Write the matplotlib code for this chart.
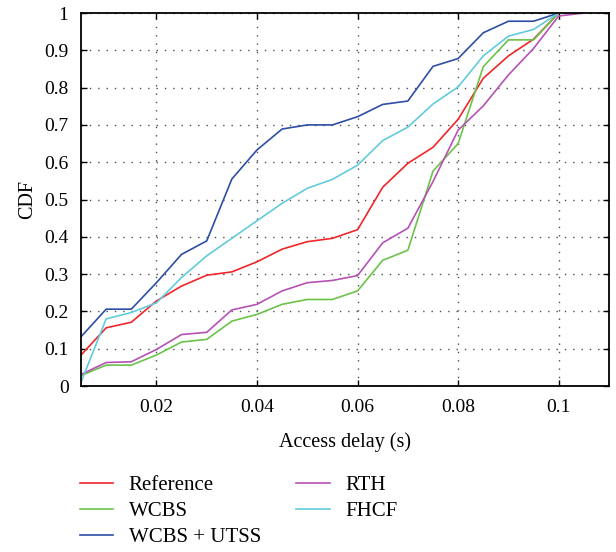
import numpy as np
import matplotlib.pyplot as plt

plt.rcParams['font.family'] = ['Liberation Serif', 'DejaVu Serif']

delay = [0.005, 0.01, 0.015, 0.02, 0.025, 0.03, 0.035, 0.04, 0.045, 0.05,
         0.055, 0.06, 0.065, 0.07, 0.075, 0.08, 0.085, 0.09, 0.095, 0.1]
delay_rth = delay + [0.105]

reference = [0.083, 0.156, 0.171, 0.228, 0.268, 0.297, 0.306, 0.333, 0.367, 0.387,
             0.396, 0.419, 0.533, 0.597, 0.640, 0.715, 0.825, 0.885, 0.930, 1.0]
wcbs = [0.028, 0.056, 0.056, 0.083, 0.118, 0.125, 0.174, 0.192, 0.219, 0.232,
        0.232, 0.255, 0.337, 0.364, 0.576, 0.650, 0.856, 0.928, 0.928, 1.0]
wcbs_utss = [0.132, 0.206, 0.206, 0.277, 0.353, 0.389, 0.555, 0.633, 0.689, 0.700,
             0.700, 0.722, 0.755, 0.764, 0.857, 0.878, 0.947, 0.978, 0.978, 1.0]
rth = [0.031, 0.063, 0.065, 0.098, 0.138, 0.144, 0.204, 0.219, 0.255, 0.277,
       0.283, 0.296, 0.384, 0.423, 0.548, 0.686, 0.751, 0.834, 0.905, 0.992, 1.0]
fhcf = [0.010, 0.180, 0.197, 0.223, 0.291, 0.349, 0.396, 0.443, 0.490, 0.530,
        0.554, 0.592, 0.658, 0.694, 0.756, 0.802, 0.885, 0.938, 0.956, 1.0]

fig = plt.figure(figsize=(6.16, 5.52), dpi=100)
ax = fig.add_axes([0.1315, 0.3007, 0.8571, 0.6757])

l1, = ax.plot(delay, reference, color='#f0262a', lw=1.2, label='Reference')
l2, = ax.plot(delay, wcbs, color='#6cc24a', lw=1.2, label='WCBS')
l3, = ax.plot(delay, wcbs_utss, color='#2e4ea6', lw=1.2, label='WCBS + UTSS')
l4, = ax.plot(delay_rth, rth, color='#b552b4', lw=1.2, label='RTH')
l5, = ax.plot(delay, fhcf, color='#62cbdc', lw=1.2, label='FHCF')

ax.set_xlim(0.005, 0.11)
ax.set_ylim(0, 1)
ax.set_xticks([0.02, 0.04, 0.06, 0.08, 0.1])
ax.set_xticklabels(['0.02', '0.04', '0.06', '0.08', '0.1'])
ax.set_yticks(np.arange(0, 1.01, 0.1))
ax.set_yticklabels(['0', '0.1', '0.2', '0.3', '0.4', '0.5', '0.6', '0.7', '0.8', '0.9', '1'])
ax.tick_params(direction='in', top=True, right=True, length=4, width=1, labelsize=14)
ax.tick_params(axis='x', pad=9)
ax.tick_params(axis='y', pad=9)
ax.grid(True, color='0.3', linestyle=(0, (1, 5)), linewidth=1)
for s in ax.spines.values():
    s.set_linewidth(1.3)

ax.set_xlabel('Access delay (s)', fontsize=14.5, labelpad=12)
ax.set_ylabel('CDF', fontsize=14.5, labelpad=5)

fig.legend(handles=[l1, l2, l3, l4, l5], ncol=2, frameon=False, fontsize=15,
           loc='upper left', bbox_to_anchor=(0.099, 0.172), bbox_transform=fig.transFigure,
           handlelength=1.6, columnspacing=1.7, labelspacing=0.3, handletextpad=0.75)

fig.savefig('out.png', dpi=100)
